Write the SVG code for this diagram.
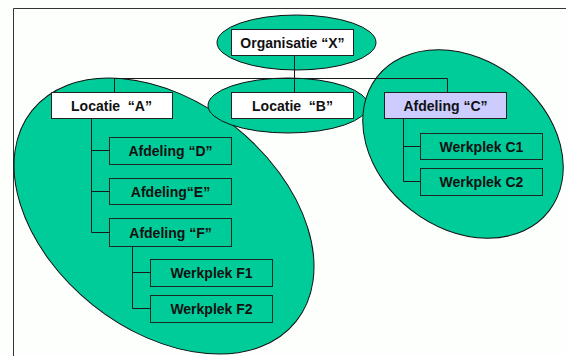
<svg xmlns="http://www.w3.org/2000/svg" width="566" height="356" viewBox="0 0 566 356">
<style>
.bg{fill:#fdfffd}
.frame{stroke:#333;stroke-width:1;fill:none}
.ell{fill:#00cc99;stroke:#111;stroke-width:1}
.wbox{fill:#ffffff;stroke:#222;stroke-width:1}
.gbox{fill:#00cc99;stroke:#1a2a22;stroke-width:1}
.pbox{fill:#ccccff;stroke:#222;stroke-width:1}
.conn{stroke:#1a1a1a;stroke-width:1;fill:none}
text{font-family:"Liberation Sans",Arial,sans-serif;font-size:14px;font-weight:bold;fill:#111;text-anchor:middle;white-space:pre}
</style>
<rect class="bg" x="0" y="0" width="566" height="356"/>
<path class="frame" d="M13.5,356 V8.5 H566"/>
<g id="regions">
<ellipse id="region-A" class="ell" cx="0" cy="0" rx="169" ry="114" transform="translate(164,216) rotate(38.6)"/>
<ellipse id="region-B" class="ell" cx="288" cy="105.5" rx="80" ry="27.5"/>
<ellipse id="region-C" class="ell" cx="0" cy="0" rx="109" ry="84" transform="translate(463,144) rotate(38)"/>
<ellipse id="region-X" class="ell" cx="296.5" cy="42.5" rx="79.5" ry="27.5"/>
</g>
<g id="connectors">
<path class="conn" d="M294.5,55 V78.5"/>
<path class="conn" d="M114.5,92 V78.5 H447.5 V92"/>
<path class="conn" d="M294.5,78.5 V92"/>
<path class="conn" d="M91.5,118 V232.5 H109 M91.5,150.5 H109 M91.5,191.5 H109"/>
<path class="conn" d="M132.5,246 V308.5 H150 M132.5,272.5 H150"/>
<path class="conn" d="M403.5,118 V181.5 H420 M403.5,146.5 H420"/>
</g>
<g id="node-org-x"><rect class="wbox" x="231.5" y="29.5" width="122" height="26"/><text x="292.5" y="47.5">Organisatie “X”</text></g>
<g id="node-locatie-a"><rect class="wbox" x="51.5" y="92.5" width="121" height="26"/><text x="111.5" y="110.5">Locatie  “A”</text></g>
<g id="node-locatie-b"><rect class="wbox" x="231.5" y="92.5" width="122" height="26"/><text x="292.5" y="110.5">Locatie  “B”</text></g>
<g id="node-afdeling-c"><rect class="pbox" x="384.5" y="92.5" width="122" height="26"/><text x="445.5" y="110.5">Afdeling “C”</text></g>
<g id="node-afdeling-d"><rect class="gbox" x="109.5" y="137.5" width="122" height="27"/><text x="170.5" y="156">Afdeling “D”</text></g>
<g id="node-afdeling-e"><rect class="gbox" x="109.5" y="178.5" width="122" height="26"/><text x="170.5" y="196.5">Afdeling“E”</text></g>
<g id="node-afdeling-f"><rect class="gbox" x="109.5" y="218.5" width="122" height="28"/><text x="170.5" y="237.5">Afdeling “F”</text></g>
<g id="node-werkplek-f1"><rect class="gbox" x="150.5" y="259.5" width="122" height="27"/><text x="211.5" y="278">Werkplek F1</text></g>
<g id="node-werkplek-f2"><rect class="gbox" x="150.5" y="295.5" width="122" height="27"/><text x="211.5" y="314">Werkplek F2</text></g>
<g id="node-werkplek-c1"><rect class="gbox" x="420.5" y="133.5" width="122" height="26"/><text x="481.5" y="151.5">Werkplek C1</text></g>
<g id="node-werkplek-c2"><rect class="gbox" x="420.5" y="168.5" width="122" height="27"/><text x="481.5" y="187">Werkplek C2</text></g>
</svg>
